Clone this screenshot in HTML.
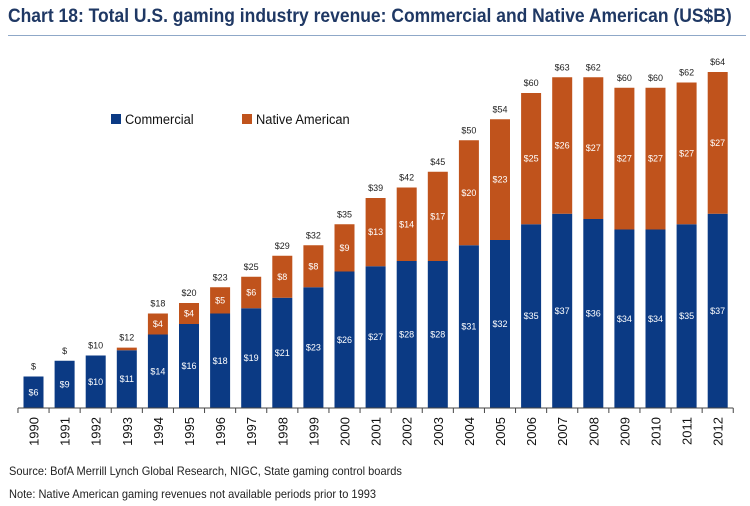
<!DOCTYPE html>
<html><head><meta charset="utf-8"><style>
body{margin:0;background:#fff;width:750px;height:506px;overflow:hidden;font-family:"Liberation Sans",sans-serif}
#title{position:absolute;left:8px;top:6px;font-size:19px;font-weight:bold;color:#1f3864;transform:scaleX(0.92);transform-origin:left;white-space:nowrap}
#rule{position:absolute;left:8px;top:35px;width:738px;height:1px;background:#8fa8c8}
.note{position:absolute;left:9px;font-size:12px;color:#222;transform:scaleX(0.92);transform-origin:left;white-space:nowrap}
</style></head><body>
<div id="title">Chart 18: Total U.S. gaming industry revenue: Commercial and Native American (US$B)</div>
<div id="rule"></div>
<svg id="chart" width="750" height="506" style="position:absolute;left:0;top:0"></svg>
<div class="note" style="top:464px">Source: BofA Merrill Lynch Global Research, NIGC, State gaming control boards</div>
<div class="note" style="top:487px">Note: Native American gaming revenues not available periods prior to 1993</div>
<script>
const years=["1990","1991","1992","1993","1994","1995","1996","1997","1998","1999","2000","2001","2002","2003","2004","2005","2006","2007","2008","2009","2010","2011","2012"];
const commercial=[6,9,10,11,14,16,18,19,21,23,26,27,28,28,31,32,35,37,36,34,34,35,37];
const native=[0,0,0,0.5,4,4,5,6,8,8,9,13,14,17,20,23,25,26,27,27,27,27,27];
const commLabels=["$6","$9","$10","$11","$14","$16","$18","$19","$21","$23","$26","$27","$28","$28","$31","$32","$35","$37","$36","$34","$34","$35","$37"];
const nativeLabels=["","","","","$4","$4","$5","$6","$8","$8","$9","$13","$14","$17","$20","$23","$25","$26","$27","$27","$27","$27","$27"];
const totalLabels=["$","$","$10","$12","$18","$20","$23","$25","$29","$32","$35","$39","$42","$45","$50","$54","$60","$63","$62","$60","$60","$62","$64"];
const NS="http://www.w3.org/2000/svg",svg=document.getElementById('chart');
const base=408,pxPer=5.25,x0=33.5,step=31.1,bw=20;
const y=v=>base-v*pxPer, xc=i=>x0+i*step;
function mk(t,a){const e=document.createElementNS(NS,t);for(const k in a)e.setAttribute(k,a[k]);svg.appendChild(e);return e;}
years.forEach((yr,i)=>{
 const c=mk('rect',{x:xc(i)-bw/2,y:y(commercial[i]),width:bw,height:commercial[i]*pxPer,fill:'#0b3a84'});
 
 
 const n=mk('rect',{x:xc(i)-bw/2,y:y(commercial[i]+native[i]),width:bw,height:native[i]*pxPer,fill:'#c0531c'});
 
 
 const cl=mk('text',{x:xc(i),y:(y(commercial[i])+base)/2+3,'font-size':9,fill:'#fff','text-anchor':'middle'});cl.textContent=commLabels[i];
 
 
 if(nativeLabels[i]){const nl=mk('text',{x:xc(i),y:y(commercial[i]+native[i]/2)+3,'font-size':9,fill:'#fff','text-anchor':'middle'});nl.textContent=nativeLabels[i];
 
 }
 const tl=mk('text',{x:xc(i),y:y(commercial[i]+native[i])-7,'font-size':9,fill:'#222','text-anchor':'middle'});tl.textContent=totalLabels[i];
 
 
 const tk=mk('line',{x1:xc(i)-step/2,x2:xc(i)-step/2,y1:base,y2:base+5,stroke:'#444'});
 
 
 const yl=mk('text',{x:0,y:0,'font-size':13,fill:'#111','text-anchor':'end',transform:`translate(${xc(i)+5},${base+9}) rotate(-90)`});yl.textContent=yr;
 
 
});
const ax=mk('line',{x1:18,x2:xc(22)+step/2,y1:base,y2:base,stroke:'#444'});


const tkEnd=mk('line',{x1:xc(22)+step/2,x2:xc(22)+step/2,y1:base,y2:base+5,stroke:'#444'});


const lg1=mk('rect',{x:111,y:114,width:10,height:10,fill:'#0b3a84'});


const lt1=mk('text',{x:125,y:124,'font-size':14,fill:'#111',transform:'translate(10,0) scale(0.92,1)'});lt1.textContent='Commercial';


const lg2=mk('rect',{x:242,y:114,width:10,height:10,fill:'#c0531c'});


const lt2=mk('text',{x:256,y:124,'font-size':14,fill:'#111',transform:'translate(20.5,0) scale(0.92,1)'});lt2.textContent='Native American';


</script>
</body></html>
